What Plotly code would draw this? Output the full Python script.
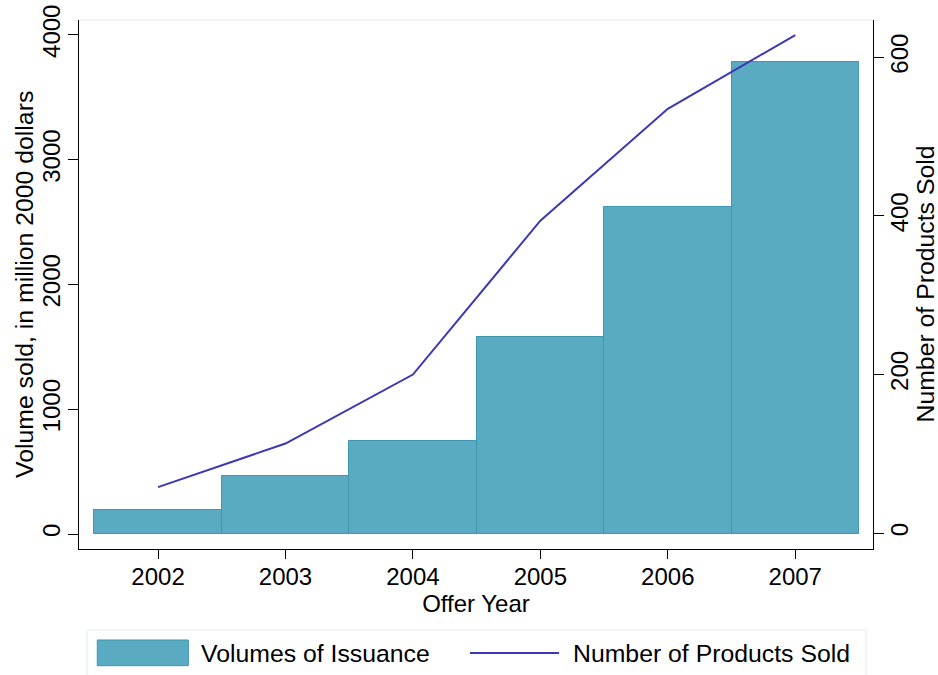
import plotly.graph_objects as go

years = [2002, 2003, 2004, 2005, 2006, 2007]
volumes = [192, 467, 748, 1578, 2618, 3780]
products = [58, 113, 200, 394, 535, 628]

x_ticks = [2002, 2003, 2004, 2005, 2006, 2007]
y1_ticks = [0, 1000, 2000, 3000, 4000]
y2_ticks = [0, 200, 400, 600]

bar_color = "#5aabc1"
bar_edge = "#3d98b0"
line_color = "#3b37b5"
font_family = "Liberation Sans, Arial, Helvetica, sans-serif"
fs = 24
fs_title = 24.8


def axis_style(ticklen=10):
    return dict(
        showgrid=False, zeroline=False, showline=True, linecolor="black", linewidth=1.3,
        ticks="outside", ticklen=ticklen, tickwidth=1.3, tickcolor="black",
        tickfont=dict(size=fs, color="black", family=font_family),
        ticklabeloverflow="allow",
    )


fig = go.Figure()
fig.add_trace(go.Bar(
    x=years, y=volumes, width=1.0, name="Volumes of Issuance",
    marker=dict(color=bar_color, line=dict(color=bar_edge, width=1)),
    yaxis="y", showlegend=False,
))
fig.add_trace(go.Scatter(
    x=years, y=products, mode="lines", name="Number of Products Sold",
    line=dict(color=line_color, width=2), yaxis="y2", showlegend=False,
))

fig.update_layout(
    width=938, height=675,
    margin=dict(l=79, r=65, t=20, b=126, autoexpand=False),
    paper_bgcolor="white", plot_bgcolor="white",
    font=dict(family=font_family, size=fs, color="black"),
    bargap=0,
    xaxis=dict(
        **axis_style(9), range=[2001.38, 2007.61], tickvals=x_ticks,
        ticktext=[str(v) for v in x_ticks], ticklabelstandoff=-3,
        title=dict(text="Offer Year", font=dict(size=fs, color="black"), standoff=6),
    ),
    yaxis=dict(
        **axis_style(10), range=[-120, 4119], tickvals=y1_ticks, tickangle=-90,
        ticklabelstandoff=-2,
    ),
    yaxis2=dict(
        **axis_style(10), range=[-20, 647], tickvals=y2_ticks, tickangle=-90,
        overlaying="y", side="right", ticklabelstandoff=-5,
    ),
)

# y-axis titles
fig.add_annotation(text="Volume sold, in million 2000 dollars", xref="paper", yref="paper",
                   x=-0.0686, y=0.5, xanchor="center", yanchor="middle", textangle=-90,
                   showarrow=False, font=dict(size=fs_title, color="black"))
fig.add_annotation(text="Number of Products Sold", xref="paper", yref="paper",
                   x=1.0655, y=0.5, xanchor="center", yanchor="middle", textangle=-90,
                   showarrow=False, font=dict(size=fs_title, color="black"))

# faint plot-region top border
fig.add_shape(type="line", xref="paper", yref="paper", x0=0, x1=1, y0=1, y1=1,
              line=dict(color="#e6eeee", width=1.2), layer="below")

# legend box (drawn manually to mimic the original layout)
fig.add_shape(type="rect", xref="paper", yref="paper",
              x0=0.0101, x1=0.9912, y0=-0.1531, y1=-0.2420,
              line=dict(color="#e6eeee", width=1.2), fillcolor="white")
fig.add_shape(type="rect", xref="paper", yref="paper",
              x0=0.0230, x1=0.1377, y0=-0.1720, y1=-0.2206,
              line=dict(color=bar_edge, width=1), fillcolor=bar_color)
fig.add_shape(type="line", xref="paper", yref="paper",
              x0=0.4924, x1=0.6045, y0=-0.1966, y1=-0.1966,
              line=dict(color=line_color, width=2))
fig.add_annotation(text="Volumes of Issuance", xref="paper", yref="paper",
                   x=0.1511, y=-0.1966, xanchor="left", yanchor="middle",
                   showarrow=False, font=dict(size=fs_title, color="black"))
fig.add_annotation(text="Number of Products Sold", xref="paper", yref="paper",
                   x=0.6196, y=-0.1966, xanchor="left", yanchor="middle",
                   showarrow=False, font=dict(size=fs_title, color="black"))

fig.write_html(
    "out.html",
    config={"displayModeBar": False},
    post_script="document.body.style.margin='0';document.body.style.overflow='hidden';",
)
